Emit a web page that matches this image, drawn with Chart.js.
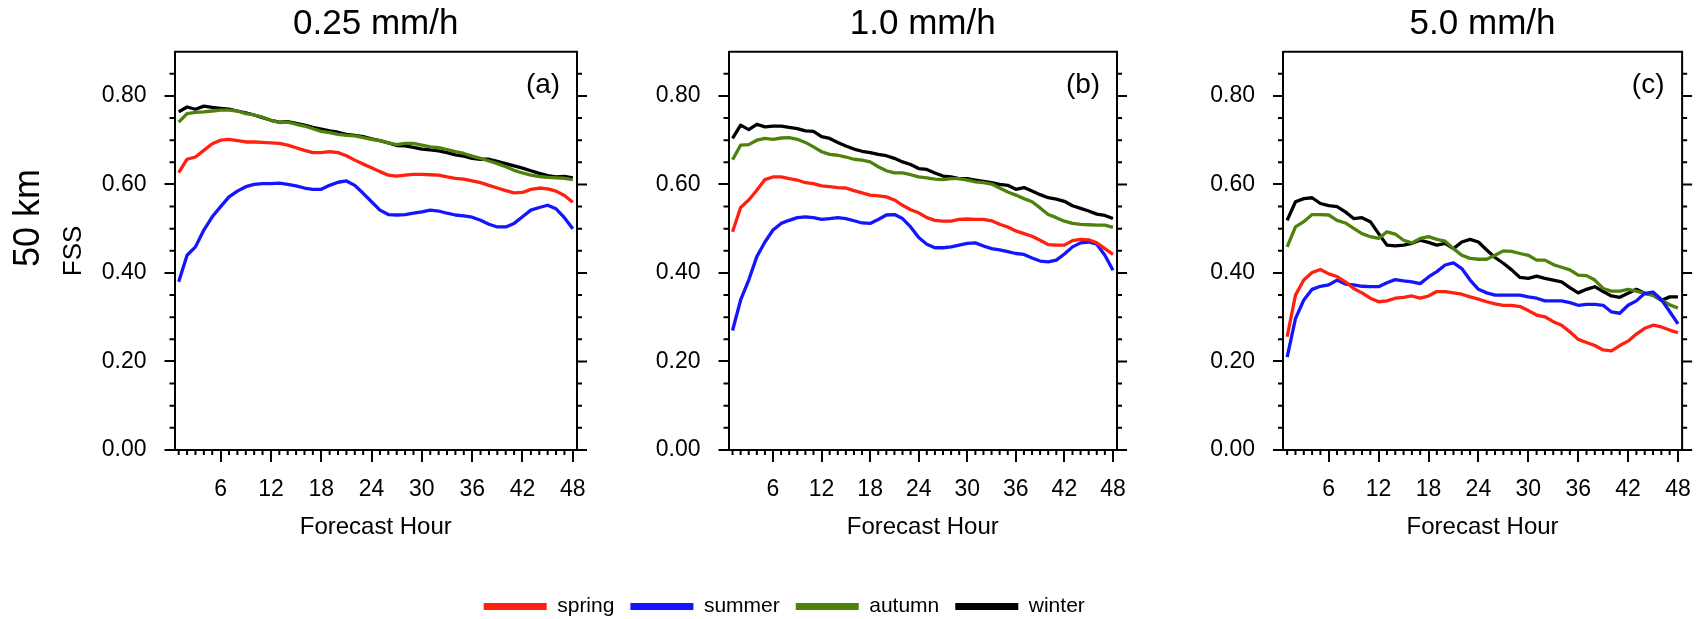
<!DOCTYPE html>
<html>
<head>
<meta charset="utf-8">
<script src="https://cdn.jsdelivr.net/npm/chart.js@4.4.1/dist/chart.umd.min.js"></script>
<style>
  html, body { margin: 0; padding: 0; background: #fff; overflow: hidden; }
  #wrap { position: relative; width: 1705px; height: 619px; overflow: hidden; }
  canvas { position: absolute; top: 0; }
</style>
</head>
<body>
<div id="wrap">
  <canvas id="chartA" width="600" height="627" style="left:0px"></canvas>
  <canvas id="chartC" width="565" height="627" style="left:1140px"></canvas>
  <canvas id="chartB" width="700" height="627" style="left:440px"></canvas>
</div>
<script>
const hours = [1, 2, 3, 4, 5, 6, 7, 8, 9, 10, 11, 12, 13, 14, 15, 16, 17, 18, 19, 20, 21, 22, 23, 24,
  25, 26, 27, 28, 29, 30, 31, 32, 33, 34, 35, 36, 37, 38, 39, 40, 41, 42, 43, 44, 45, 46, 47, 48];

const seasons = ['spring', 'summer', 'autumn', 'winter'];
const seasonColors = ['#ff2010', '#1414ff', '#4f820c', '#000000'];

const xTickValues = [6, 12, 18, 24, 30, 36, 42, 48];
const yTickValues = [0, 0.2, 0.4, 0.6, 0.8];
const yMinorValues = [0.05, 0.1, 0.15, 0.25, 0.3, 0.35, 0.45, 0.5, 0.55, 0.65, 0.7, 0.75, 0.85];

// (a) 0.25 mm/h
const spring025 = [0.627, 0.657, 0.662, 0.677, 0.692, 0.700, 0.702, 0.699, 0.696, 0.696,
  0.695, 0.694, 0.693, 0.689, 0.683, 0.677, 0.672, 0.672, 0.674, 0.672,
  0.665, 0.655, 0.646, 0.638, 0.629, 0.621, 0.619, 0.621, 0.623, 0.623,
  0.622, 0.621, 0.617, 0.614, 0.612, 0.608, 0.604, 0.598, 0.592, 0.586,
  0.581, 0.582, 0.589, 0.592, 0.590, 0.585, 0.575, 0.560];
const summer025 = [0.380, 0.440, 0.459, 0.497, 0.527, 0.550, 0.572, 0.585, 0.595, 0.600,
  0.602, 0.602, 0.603, 0.600, 0.597, 0.592, 0.589, 0.589, 0.598, 0.605,
  0.608, 0.598, 0.580, 0.561, 0.542, 0.532, 0.531, 0.532, 0.535, 0.538,
  0.542, 0.540, 0.535, 0.531, 0.529, 0.526, 0.519, 0.510, 0.504, 0.504,
  0.512, 0.527, 0.542, 0.548, 0.553, 0.545, 0.525, 0.500];
const autumn025 = [0.741, 0.760, 0.763, 0.764, 0.766, 0.768, 0.768, 0.766, 0.760, 0.757,
  0.752, 0.745, 0.740, 0.741, 0.736, 0.732, 0.726, 0.720, 0.717, 0.713,
  0.711, 0.710, 0.706, 0.702, 0.699, 0.694, 0.690, 0.693, 0.693, 0.689,
  0.685, 0.683, 0.679, 0.674, 0.670, 0.664, 0.659, 0.653, 0.647, 0.640,
  0.632, 0.626, 0.621, 0.618, 0.616, 0.615, 0.614, 0.611];
const winter025 = [0.764, 0.775, 0.770, 0.777, 0.774, 0.772, 0.770, 0.766, 0.762, 0.757,
  0.751, 0.745, 0.741, 0.742, 0.738, 0.734, 0.729, 0.725, 0.721, 0.718,
  0.713, 0.711, 0.708, 0.703, 0.699, 0.694, 0.688, 0.687, 0.684, 0.680,
  0.678, 0.676, 0.672, 0.667, 0.664, 0.659, 0.657, 0.657, 0.652, 0.647,
  0.642, 0.637, 0.631, 0.625, 0.620, 0.617, 0.618, 0.615];

// (b) 1.0 mm/h
const spring10 = [0.493, 0.548, 0.565, 0.587, 0.611, 0.617, 0.617, 0.613, 0.610, 0.604,
  0.602, 0.597, 0.595, 0.593, 0.592, 0.586, 0.581, 0.576, 0.574, 0.572,
  0.565, 0.553, 0.543, 0.536, 0.525, 0.519, 0.517, 0.517, 0.521, 0.522,
  0.521, 0.521, 0.518, 0.510, 0.504, 0.495, 0.489, 0.483, 0.474, 0.464,
  0.463, 0.463, 0.473, 0.476, 0.475, 0.468, 0.455, 0.442];
const summer10 = [0.270, 0.339, 0.384, 0.437, 0.470, 0.497, 0.512, 0.519, 0.525, 0.527,
  0.525, 0.521, 0.523, 0.525, 0.523, 0.518, 0.513, 0.512, 0.521, 0.531,
  0.532, 0.523, 0.504, 0.480, 0.465, 0.457, 0.457, 0.459, 0.463, 0.467,
  0.468, 0.461, 0.455, 0.452, 0.448, 0.444, 0.442, 0.434, 0.427, 0.425,
  0.429, 0.443, 0.459, 0.468, 0.470, 0.465, 0.440, 0.406];
const autumn10 = [0.656, 0.689, 0.690, 0.700, 0.704, 0.702, 0.705, 0.706, 0.702, 0.695,
  0.685, 0.674, 0.668, 0.666, 0.662, 0.657, 0.655, 0.651, 0.640, 0.631,
  0.626, 0.626, 0.622, 0.617, 0.615, 0.612, 0.611, 0.613, 0.613, 0.610,
  0.606, 0.604, 0.601, 0.592, 0.583, 0.576, 0.568, 0.561, 0.547, 0.532,
  0.525, 0.517, 0.512, 0.510, 0.509, 0.508, 0.508, 0.503];
const winter10 = [0.704, 0.734, 0.724, 0.736, 0.730, 0.732, 0.732, 0.729, 0.726, 0.721,
  0.720, 0.708, 0.704, 0.695, 0.687, 0.680, 0.675, 0.672, 0.668, 0.665,
  0.659, 0.651, 0.645, 0.636, 0.634, 0.626, 0.619, 0.617, 0.613, 0.613,
  0.610, 0.607, 0.604, 0.600, 0.598, 0.589, 0.593, 0.585, 0.577, 0.570,
  0.567, 0.562, 0.552, 0.546, 0.540, 0.533, 0.530, 0.523];

// (c) 5.0 mm/h
const spring50 = [0.256, 0.350, 0.384, 0.401, 0.408, 0.398, 0.392, 0.380, 0.365, 0.355,
  0.343, 0.335, 0.337, 0.343, 0.345, 0.348, 0.343, 0.348, 0.358, 0.358,
  0.355, 0.352, 0.346, 0.341, 0.335, 0.330, 0.327, 0.327, 0.324, 0.315,
  0.305, 0.301, 0.290, 0.282, 0.267, 0.250, 0.243, 0.236, 0.226, 0.224,
  0.236, 0.246, 0.262, 0.275, 0.282, 0.278, 0.271, 0.265];
const summer50 = [0.210, 0.297, 0.339, 0.363, 0.370, 0.373, 0.384, 0.375, 0.373, 0.370,
  0.369, 0.369, 0.378, 0.385, 0.382, 0.380, 0.376, 0.391, 0.403, 0.418,
  0.423, 0.410, 0.384, 0.363, 0.355, 0.350, 0.350, 0.350, 0.350, 0.346,
  0.343, 0.337, 0.337, 0.337, 0.333, 0.327, 0.329, 0.329, 0.327, 0.312,
  0.309, 0.327, 0.337, 0.354, 0.357, 0.340, 0.313, 0.285];
const autumn50 = [0.459, 0.504, 0.516, 0.532, 0.532, 0.531, 0.519, 0.513, 0.501, 0.489,
  0.482, 0.478, 0.493, 0.488, 0.474, 0.468, 0.478, 0.482, 0.476, 0.472,
  0.455, 0.440, 0.433, 0.431, 0.431, 0.440, 0.450, 0.449, 0.444, 0.440,
  0.429, 0.429, 0.419, 0.413, 0.407, 0.395, 0.394, 0.384, 0.365, 0.359,
  0.359, 0.363, 0.359, 0.354, 0.350, 0.340, 0.328, 0.321];
const winter50 = [0.519, 0.561, 0.568, 0.570, 0.557, 0.552, 0.550, 0.538, 0.523, 0.525,
  0.516, 0.489, 0.463, 0.461, 0.463, 0.467, 0.474, 0.469, 0.463, 0.467,
  0.455, 0.470, 0.476, 0.470, 0.452, 0.435, 0.422, 0.407, 0.390, 0.388,
  0.393, 0.388, 0.384, 0.380, 0.367, 0.355, 0.363, 0.369, 0.358, 0.348,
  0.345, 0.354, 0.363, 0.354, 0.350, 0.338, 0.346, 0.346];

const FONT = '"Liberation Sans", Arial, Helvetica, sans-serif';
Chart.defaults.font.family = FONT;
Chart.defaults.color = '#000';

// box frame, minor ticks, right-side ticks and panel letter
const framePlugin = {
  id: 'frame',
  afterDraw(chart, args, opts) {
    const { ctx, chartArea: a, scales: { x, y } } = chart;
    ctx.save();
    ctx.strokeStyle = '#000';
    ctx.lineWidth = 2;
    ctx.beginPath();
    ctx.moveTo(a.left, a.top);
    ctx.lineTo(a.right, a.top);
    ctx.lineTo(a.right, a.bottom);
    yTickValues.forEach(v => {
      const py = y.getPixelForValue(v);
      ctx.moveTo(a.right, py);
      ctx.lineTo(a.right + 10, py);
    });
    yMinorValues.forEach(v => {
      const py = y.getPixelForValue(v);
      ctx.moveTo(a.left - 5, py);
      ctx.lineTo(a.left, py);
      ctx.moveTo(a.right, py);
      ctx.lineTo(a.right + 5, py);
    });
    hours.filter(h => !xTickValues.includes(h)).forEach(h => {
      const px = x.getPixelForValue(h);
      ctx.moveTo(px, a.bottom);
      ctx.lineTo(px, a.bottom + 5);
    });
    ctx.stroke();

    ctx.fillStyle = '#000';
    ctx.textAlign = 'center';
    ctx.textBaseline = 'middle';
    ctx.font = '28px ' + FONT;
    ctx.fillText(opts.letter, a.right - 34, a.top + 34);

    if (opts.rowLabel) {
      ctx.translate(29, 218);
      ctx.rotate(-Math.PI / 2);
      ctx.font = '36px ' + FONT;
      ctx.fillText(opts.rowLabel, 0, 0);
    }
    ctx.restore();
  }
};

function makePanel(canvasId, title, letter, values, cfg) {
  const datasets = seasons.map((name, i) => ({
    label: name,
    data: hours.map((h, j) => ({ x: h, y: values[i][j] })),
    borderColor: seasonColors[i],
    backgroundColor: seasonColors[i],
    borderWidth: 3.3,
    pointRadius: 0,
    tension: 0,
    borderJoinStyle: 'round'
  }));

  return new Chart(document.getElementById(canvasId), {
    type: 'line',
    data: { datasets: datasets },
    options: {
      responsive: false,
      animation: false,
      events: [],
      layout: { padding: { left: cfg.padLeft || 0, right: cfg.padRight, top: 0, bottom: cfg.legend ? 0 : 47 } },
      plugins: {
        title: {
          display: true,
          text: title,
          fullSize: false,
          color: '#000',
          font: { size: 35, weight: 'normal' },
          padding: { top: 3, bottom: 6.7 }
        },
        legend: {
          display: !!cfg.legend,
          position: 'bottom',
          align: 'center',
          labels: {
            boxWidth: 63,
            boxHeight: 7,
            padding: 16,
            color: '#000',
            font: { size: 21 },
            generateLabels: chart => Chart.defaults.plugins.legend.labels.generateLabels(chart)
              .map(item => Object.assign(item, { lineWidth: 0 }))
          }
        },
        tooltip: { enabled: false },
        frame: { letter: letter, rowLabel: cfg.rowLabel }
      },
      scales: {
        x: {
          type: 'linear',
          min: 0.5,
          max: 48.5,
          afterBuildTicks: s => { s.ticks = xTickValues.map(v => ({ value: v })); },
          afterFit: s => { s.height = 130; },
          ticks: { autoSkip: false, maxRotation: 0, padding: 14, font: { size: 23 }, color: '#000' },
          grid: { drawOnChartArea: false, tickLength: 12, lineWidth: 2, color: '#000' },
          border: { display: true, width: 2, color: '#000' },
          title: { display: true, text: 'Forecast Hour', font: { size: 24 }, color: '#000', padding: { top: 0, bottom: 38 } }
        },
        y: {
          min: 0,
          max: 0.9,
          afterBuildTicks: s => { s.ticks = yTickValues.map(v => ({ value: v })); },
          afterFit: s => { s.width = cfg.yWidth; },
          ticks: { padding: 18, font: { size: 23 }, color: '#000', callback: v => v.toFixed(2) },
          grid: { drawOnChartArea: false, tickLength: 10, lineWidth: 2, color: '#000' },
          border: { display: true, width: 2, color: '#000' },
          title: { display: !!cfg.yTitle, text: cfg.yTitle || '', font: { size: 26 }, color: '#000', padding: { top: 4, bottom: 4 } }
        }
      }
    },
    plugins: [framePlugin]
  });
}

makePanel('chartA', '0.25 mm/h', '(a)', [spring025, summer025, autumn025, winter025],
  { padLeft: 54, yWidth: 120.5, padRight: 23, yTitle: 'FSS', rowLabel: '50 km' });
makePanel('chartB', '1.0 mm/h', '(b)', [spring10, summer10, autumn10, winter10],
  { yWidth: 288.5, padRight: 11.5, legend: true });
makePanel('chartC', '5.0 mm/h', '(c)', [spring50, summer50, autumn50, winter50],
  { yWidth: 143, padRight: 21.5 });
</script>
</body>
</html>
